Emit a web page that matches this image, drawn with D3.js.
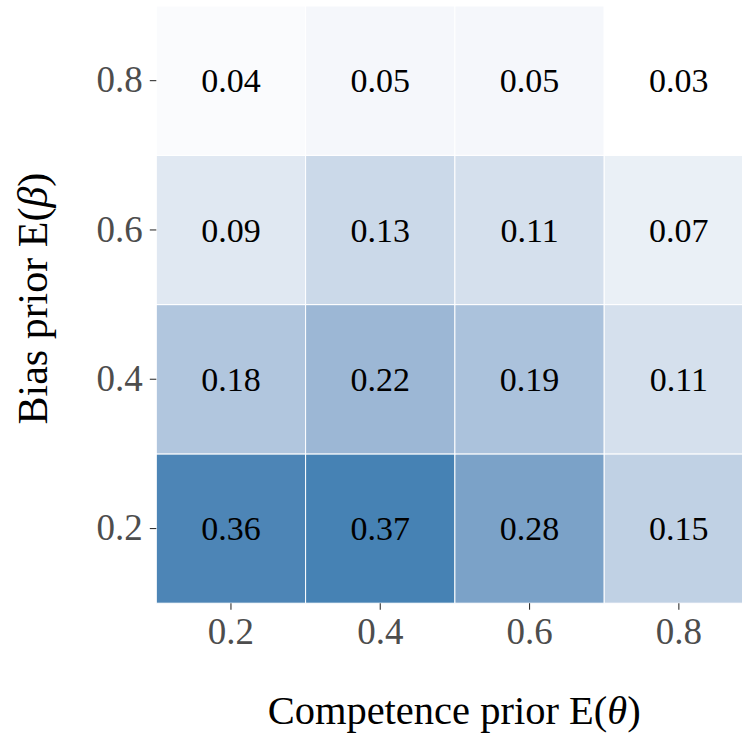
<!DOCTYPE html>
<html>
<head>
<meta charset="utf-8">
<script src="https://cdn.jsdelivr.net/npm/d3@7"></script>
<style>
  html, body { margin: 0; padding: 0; background: #fff; overflow: hidden; }
  svg { display: block; }
  text { font-family: "Liberation Serif", "Times New Roman", serif; }
</style>
</head>
<body>
<script>
// Competence prior levels (columns) and bias prior levels (rows)
const competenceLevels = ["0.2", "0.4", "0.6", "0.8"];
const biasLevels = ["0.2", "0.4", "0.6", "0.8"];

// Cell values, one array per bias level, ordered by competence level
const biasRow02 = [0.36, 0.37, 0.28, 0.15];
const biasRow04 = [0.18, 0.22, 0.19, 0.11];
const biasRow06 = [0.09, 0.13, 0.11, 0.07];
const biasRow08 = [0.04, 0.05, 0.05, 0.03];
const rowsByBias = [biasRow02, biasRow04, biasRow06, biasRow08];

const cells = [];
biasLevels.forEach((b, i) => {
  competenceLevels.forEach((c, j) => {
    cells.push({ competence: c, bias: b, value: rowsByBias[i][j] });
  });
});

const width = 742, height = 734;
const plot = { left: 156.3, top: 6, cellSize: 149.3 };

const svg = d3.select("body").append("svg")
  .attr("width", width)
  .attr("height", height);

const x = d3.scaleBand()
  .domain(competenceLevels)
  .range([plot.left, plot.left + plot.cellSize * competenceLevels.length])
  .padding(0);

const y = d3.scaleBand()
  .domain(biasLevels)
  .range([plot.top + plot.cellSize * biasLevels.length, plot.top])
  .padding(0);

const values = cells.map(d => d.value);
const color = d3.scaleLinear()
  .domain([d3.min(values), d3.max(values)])
  .range(["#ffffff", "steelblue"])
  .interpolate(d3.interpolateLab);

// Tiles
svg.append("g")
  .selectAll("rect")
  .data(cells)
  .join("rect")
  .attr("x", d => x(d.competence))
  .attr("y", d => y(d.bias))
  .attr("width", x.bandwidth())
  .attr("height", y.bandwidth())
  .attr("fill", d => color(d.value))
  .attr("stroke", "#ffffff")
  .attr("stroke-width", 1);

// Value labels
svg.append("g")
  .selectAll("text")
  .data(cells)
  .join("text")
  .attr("x", d => x(d.competence) + x.bandwidth() / 2)
  .attr("y", d => y(d.bias) + y.bandwidth() / 2)
  .attr("dy", "0.34em")
  .attr("text-anchor", "middle")
  .attr("font-size", 34)
  .attr("fill", "#000")
  .text(d => d.value.toFixed(2));

// Axes
const yBottom = plot.top + plot.cellSize * biasLevels.length;

const xAxis = svg.append("g")
  .attr("transform", `translate(0,${yBottom})`)
  .call(d3.axisBottom(x).tickSize(6.5).tickPadding(8));
xAxis.select(".domain").remove();
xAxis.selectAll(".tick line").attr("stroke", "#333").attr("stroke-width", 1.1);
xAxis.selectAll(".tick text")
  .attr("font-family", "Liberation Serif, serif")
  .attr("font-size", 37)
  .attr("fill", "#4d4d4d");

const yAxis = svg.append("g")
  .attr("transform", `translate(${plot.left},0)`)
  .call(d3.axisLeft(y).tickSize(6.5).tickPadding(7));
yAxis.select(".domain").remove();
yAxis.selectAll(".tick line").attr("stroke", "#333").attr("stroke-width", 1.1);
yAxis.selectAll(".tick text")
  .attr("font-family", "Liberation Serif, serif")
  .attr("font-size", 37)
  .attr("fill", "#4d4d4d");

// Axis titles
const xTitle = svg.append("text")
  .attr("x", (plot.left + width) / 2 + 5)
  .attr("y", 724)
  .attr("text-anchor", "middle")
  .attr("font-size", 40.5)
  .attr("fill", "#000");
xTitle.append("tspan").text("Competence prior E(");
xTitle.append("tspan").attr("font-style", "italic").text("θ");
xTitle.append("tspan").text(")");

const yTitle = svg.append("text")
  .attr("transform", `translate(47,${(plot.top + yBottom) / 2 - 6}) rotate(-90)`)
  .attr("text-anchor", "middle")
  .attr("font-size", 42)
  .attr("fill", "#000");
yTitle.append("tspan").text("Bias prior E(");
yTitle.append("tspan").attr("font-style", "italic").text("β");
yTitle.append("tspan").text(")");
</script>
</body>
</html>
